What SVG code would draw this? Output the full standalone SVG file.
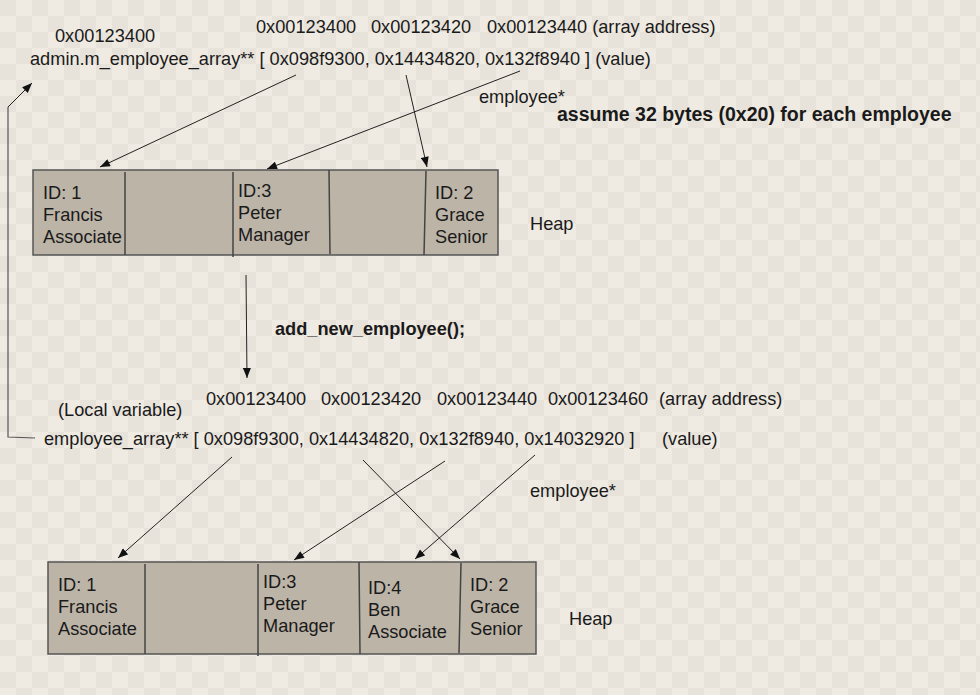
<svg xmlns="http://www.w3.org/2000/svg" width="980" height="695" viewBox="0 0 980 695">
<style>
text{font-family:"Liberation Sans",Arial,sans-serif;font-size:18.2px;fill:#1a1a1a}
.b{font-weight:bold}
.box{fill:#bcb4a7;stroke:#555;stroke-width:1.5}
.div{stroke:#444;stroke-width:1.5;fill:none}
.con{stroke:#222;stroke-width:1;fill:none;marker-end:url(#ah)}
.plain{stroke:#555;stroke-width:1.2;fill:none}
</style>
<defs>
<pattern id="chk" width="32" height="32" patternUnits="userSpaceOnUse">
<rect width="32" height="32" fill="#efebe2"/>
<rect x="0" y="0" width="16" height="16" fill="#e7e3db"/>
<rect x="16" y="16" width="16" height="16" fill="#e7e3db"/>
</pattern>
<marker id="ah" viewBox="0 0 10 8" refX="10" refY="4" markerWidth="11" markerHeight="8" markerUnits="userSpaceOnUse" orient="auto">
<path d="M0,0 L10,4 L0,8 Z" fill="#111"/>
</marker>
</defs>
<rect width="980" height="695" fill="url(#chk)"/>

<g id="top-labels">
<text x="55" y="42">0x00123400</text>
<text x="256" y="33">0x00123400</text>
<text x="371" y="33">0x00123420</text>
<text x="487" y="33">0x00123440 (array address)</text>
<text x="30" y="65">admin.m_employee_array** [ 0x098f9300, 0x14434820, 0x132f8940 ] (value)</text>
<text x="479" y="103">employee*</text>
<text x="557" y="121" class="b" style="font-size:19.5px">assume 32 bytes (0x20) for each employee</text>
</g>

<g id="top-heap">
<rect class="box" x="33" y="170" width="465" height="85"/>
<path class="div" d="M125,172V255 M233,172V257 M329,170L330,254 M426,171L424,255"/>
<text x="43" y="199">ID: 1</text>
<text x="43" y="221">Francis</text>
<text x="43" y="243">Associate</text>
<text x="238" y="197">ID:3</text>
<text x="238" y="219">Peter</text>
<text x="238" y="241">Manager</text>
<text x="435" y="199">ID: 2</text>
<text x="435" y="221">Grace</text>
<text x="435" y="243">Senior</text>
<text x="530" y="230">Heap</text>
</g>

<g id="middle">
<text x="275" y="335" class="b">add_new_employee();</text>
</g>

<g id="bottom-labels">
<text x="58" y="416">(Local variable)</text>
<text x="206" y="405">0x00123400</text>
<text x="321" y="405">0x00123420</text>
<text x="437" y="405">0x00123440</text>
<text x="548" y="405">0x00123460</text>
<text x="659" y="405">(array address)</text>
<text x="44" y="445">employee_array** [ 0x098f9300, 0x14434820, 0x132f8940, 0x14032920 ]</text>
<text x="662" y="445">(value)</text>
<text x="530" y="497">employee*</text>
</g>

<g id="bottom-heap">
<rect class="box" x="48" y="562" width="488" height="92"/>
<path class="div" d="M145,564V654 M258,564V656 M359,562L360,654 M461,563L459,653"/>
<text x="58" y="591">ID: 1</text>
<text x="58" y="613">Francis</text>
<text x="58" y="635">Associate</text>
<text x="263" y="588">ID:3</text>
<text x="263" y="610">Peter</text>
<text x="263" y="632">Manager</text>
<text x="368" y="594">ID:4</text>
<text x="368" y="616">Ben</text>
<text x="368" y="638">Associate</text>
<text x="470" y="591">ID: 2</text>
<text x="470" y="613">Grace</text>
<text x="470" y="635">Senior</text>
<text x="569" y="625">Heap</text>
</g>

<g id="connectors">
<line class="con" x1="296" y1="75" x2="100" y2="167"/>
<line class="con" x1="520" y1="71" x2="267" y2="169"/>
<line class="con" x1="406" y1="75" x2="427" y2="167"/>
<path class="plain" d="M35,438L8,437V107"/>
<line class="con" x1="8" y1="107" x2="32" y2="83"/>
<line class="con" x1="246" y1="275" x2="247" y2="378"/>
<line class="con" x1="232" y1="457" x2="118" y2="558"/>
<line class="con" x1="445" y1="461" x2="294" y2="560"/>
<line class="con" x1="363" y1="460" x2="460" y2="559"/>
<line class="con" x1="535" y1="455" x2="415" y2="559"/>
</g>
</svg>
